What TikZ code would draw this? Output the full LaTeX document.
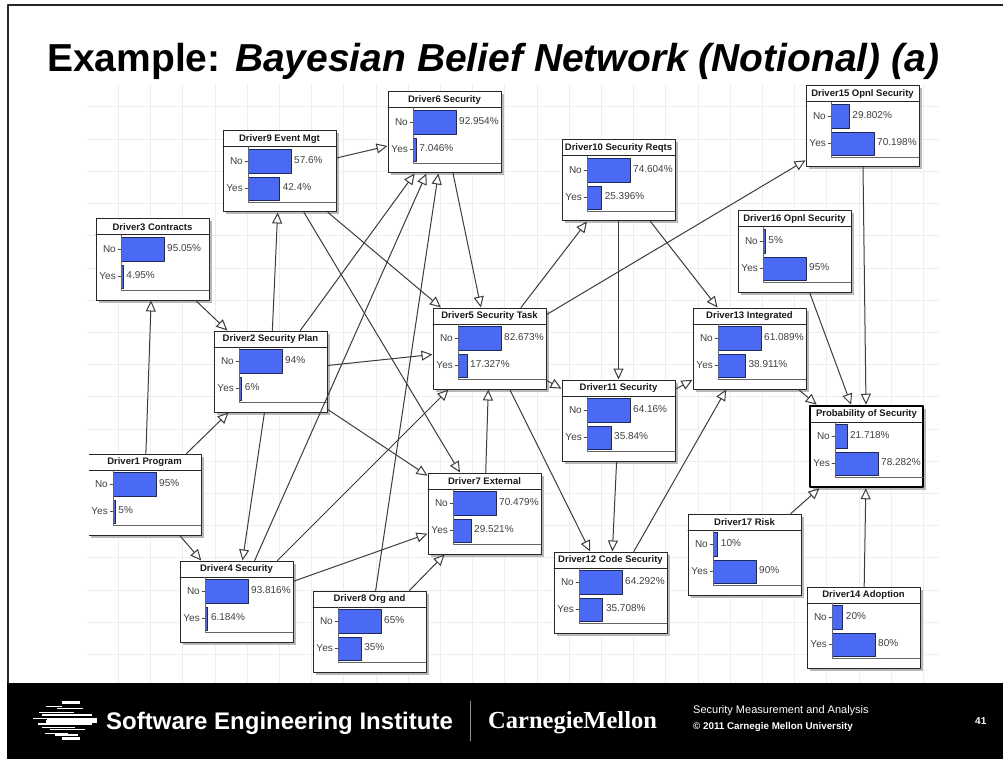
\documentclass[tikz,border=0pt]{standalone}
\usepackage{fontspec}
\setmainfont{Liberation Sans}
\newfontfamily\cmufont{Liberation Serif}
\usetikzlibrary{arrows.meta}
\definecolor{barblue}{RGB}{74,106,245}
\definecolor{bardark}{RGB}{30,40,90}
\definecolor{gridgray}{RGB}{238,238,238}
\definecolor{linegray}{RGB}{60,60,60}
\tikzset{
	bbnbox/.style={draw=black!85,fill=white,line width=1pt,minimum width=113pt,minimum height=81pt,inner sep=0pt},
	bbnshadow/.style={fill=black!28},
	bbnbar/.style={draw=bardark,fill=barblue,line width=.8pt},
	bbntitle/.style={inner sep=0pt,font=\fontsize{9.5}{11}\bfseries\selectfont,text=black!90},
	bbnlabel/.style={inner sep=0pt,font=\fontsize{10}{12}\selectfont,text=black!75},
	footertext/.style={inner sep=0pt,text=white,anchor=west},
}
% name, left, top, title, no, yes
\newcommand{\bbn}[7][]{
	\pgfmathsetmacro{\barmax}{max(#6,#7)}
	\pgfmathsetmacro{\barno}{#3+25+43*#6/\barmax}
	\pgfmathsetmacro{\baryes}{#3+25+43*#7/\barmax}
	\fill[bbnshadow] (#3+2.5,#4+2.5) rectangle (#3+115.5,#4+83.5);
	\node[bbnbox,#1] (#2) at (#3+56.5,#4+40.5) {};
	\node[bbntitle] (#2t) at (#3+56.5,#4+8.5) {#5};
	\draw[line width=1pt,black!85] (#3,#4+16)--(#3+113,#4+16);
	\fill[bbnbar] (#3+25,#4+18) rectangle (\barno,#4+42);
	\fill[bbnbar] (#3+25,#4+46) rectangle (\baryes,#4+69);
	\draw[black!60] (#3+25,#4+16)--(#3+25,#4+71)--(#3+113,#4+71);
	\draw[black!70] (#3+22,#4+30)--(#3+25,#4+30) (#3+22,#4+57)--(#3+25,#4+57);
	\node[bbnlabel,anchor=east] (#2n) at (#3+20,#4+30) {No};
	\node[bbnlabel,anchor=east] (#2y) at (#3+20,#4+57.5) {Yes};
	\node[bbnlabel,anchor=west] (#2p) at (\barno+3,#4+29) {#6\%};
	\node[bbnlabel,anchor=west] (#2q) at (\baryes+3,#4+56.5) {#7\%};
}
\begin{document}
\begin{tikzpicture}[line join=round,line cap=round,x=1pt,y=-1pt,>={Triangle[open,length=11pt,width=10pt,fill=white]}]
	\useasboundingbox (0,0) rectangle (1003,759);
	\fill[white] (0,0) rectangle (1003,759);
	% grid
	\foreach \i in {0,...,25} \draw[gridgray,line width=1pt] (118.5+32.2*\i,85)--(118.5+32.2*\i,683);
	\foreach \j in {0,...,17} \draw[gridgray,line width=1pt] (88,107+32.2*\j)--(938,107+32.2*\j);
	% slide frame
	\draw[black!85,line width=1.5pt] (8,683)--(8,5)--(1003,5);
	\node[inner sep=0pt,anchor=base west,font=\fontsize{39}{42}\bfseries\selectfont] (slidetitle) at (47,72) {Example: \textit{Bayesian Belief Network (Notional) (a)}};
	% network boxes
	\bbn{d1}{88}{454}{Driver1 Program}{95}{5}
	\bbn{d2}{214}{331}{Driver2 Security Plan}{94}{6}
	\bbn{d3}{96}{219}{Driver3 Contracts}{95.05}{4.95}
	\bbn{d4}{180}{561}{Driver4 Security}{93.816}{6.184}
	\bbn{d5}{433}{308}{Driver5 Security Task}{82.673}{17.327}
	\bbn{d6}{388}{92}{Driver6 Security}{92.954}{7.046}
	\bbn{d7}{428}{473}{Driver7 External}{70.479}{29.521}
	\bbn{d8}{313}{591}{Driver8 Org and}{65}{35}
	\bbn{d9}{223}{131}{Driver9 Event Mgt}{57.6}{42.4}
	\bbn{d10}{562}{140}{Driver10 Security Reqts}{74.604}{25.396}
	\bbn{d11}{562}{380}{Driver11 Security}{64.16}{35.84}
	\bbn{d12}{554}{552}{Driver12 Code Security}{64.292}{35.708}
	\bbn{d13}{693}{308}{Driver13 Integrated}{61.089}{38.911}
	\bbn{d14}{807}{587}{Driver14 Adoption}{20}{80}
	\bbn{d15}{806}{86}{Driver15 Opnl Security}{29.802}{70.198}
	\bbn{d16}{738}{211}{Driver16 Opnl Security}{5}{95}
	\bbn{d17}{688}{514}{Driver17 Risk}{10}{90}
	\bbn[line width=2.5pt,draw=black]{ps}{810}{406}{Probability of Security}{21.718}{78.282}
	% links
	\begin{scope}[linegray,line width=1pt]
		\draw[->] (d1)--(d3);
		\draw[->] (d1)--(d2);
		\draw[->] (d1)--(d4);
		\draw[->] (d3)--(d2);
		\draw[->] (d2)--(d9);
		\draw[->] (d2)--(d6);
		\draw[->] (d2)--(d5);
		\draw[->] (d2)--(d7);
		\draw[->] (d2)--(d4);
		\draw[->] (d9)--(d6);
		\draw[->] (d9)--(d5);
		\draw[->] (d9)--(d7);
		\draw[->] (d4)--(d6);
		\draw[->] (d4)--(d5);
		\draw[->] (d4)--(d7);
		\draw[->] (d8)--(d6);
		\draw[->] (d8)--(d7);
		\draw[->] (d7)--(d5);
		\draw[->] (d6)--(d5);
		\draw[->] (d5)--(d10);
		\draw[->] (d5)--(d15);
		\draw[->] (d5)--(d11);
		\draw[->] (d5)--(d12);
		\draw[->] (d10)--(d11);
		\draw[->] (d10)--(d13);
		\draw[->] (d11)--(d13);
		\draw[->] (d11)--(d12);
		\draw[->] (d12)--(d13);
		\draw[->] (d13)--(ps);
		\draw[->] (d15)--(ps);
		\draw[->] (d16)--(ps);
		\draw[->] (d17)--(ps);
		\draw[->] (d14)--(ps);
	\end{scope}
	% box one is cut off at the left
	\fill[white] (86,452) rectangle (88.6,538);
	% footer band
	\fill[black] (7,683) rectangle (1003,759);
	\foreach \y/\a/\b/\w in {702.5/62/80/2.5,706.5/46/62/.8,708.5/57/83/1.5,712/39/74/.8,715/42/92/1.5,718.5/33/60/.8,719/47/97/1.5,721/46/97/3,724/38/92/1.5,727/42/75/.8,729.5/50/85/1.5,733/45/68/.8,735/55/78/1.5,738.5/62/80/2.5}
		\draw[white,line width=\w pt,line cap=butt] (\a,\y)--(\b,\y);
	\node[footertext,font=\fontsize{24}{26}\bfseries\selectfont] (sei) at (106,723) {Software Engineering Institute};
	\draw[black!45] (470,701)--(470,741);
	\node[footertext,font=\fontsize{24.5}{26}\cmufont\bfseries\selectfont] (cmu) at (488,723) {CarnegieMellon};
	\node[footertext,font=\fontsize{11}{13}\selectfont] (course) at (693,711) {Security Measurement and Analysis};
	\node[footertext,font=\fontsize{9.8}{12}\bfseries\selectfont] (copyr) at (693,727) {© 2011 Carnegie Mellon University};
	\node[footertext,font=\fontsize{10}{12}\bfseries\selectfont] (pagenum) at (975,721) {41};
\end{tikzpicture}
\end{document}
